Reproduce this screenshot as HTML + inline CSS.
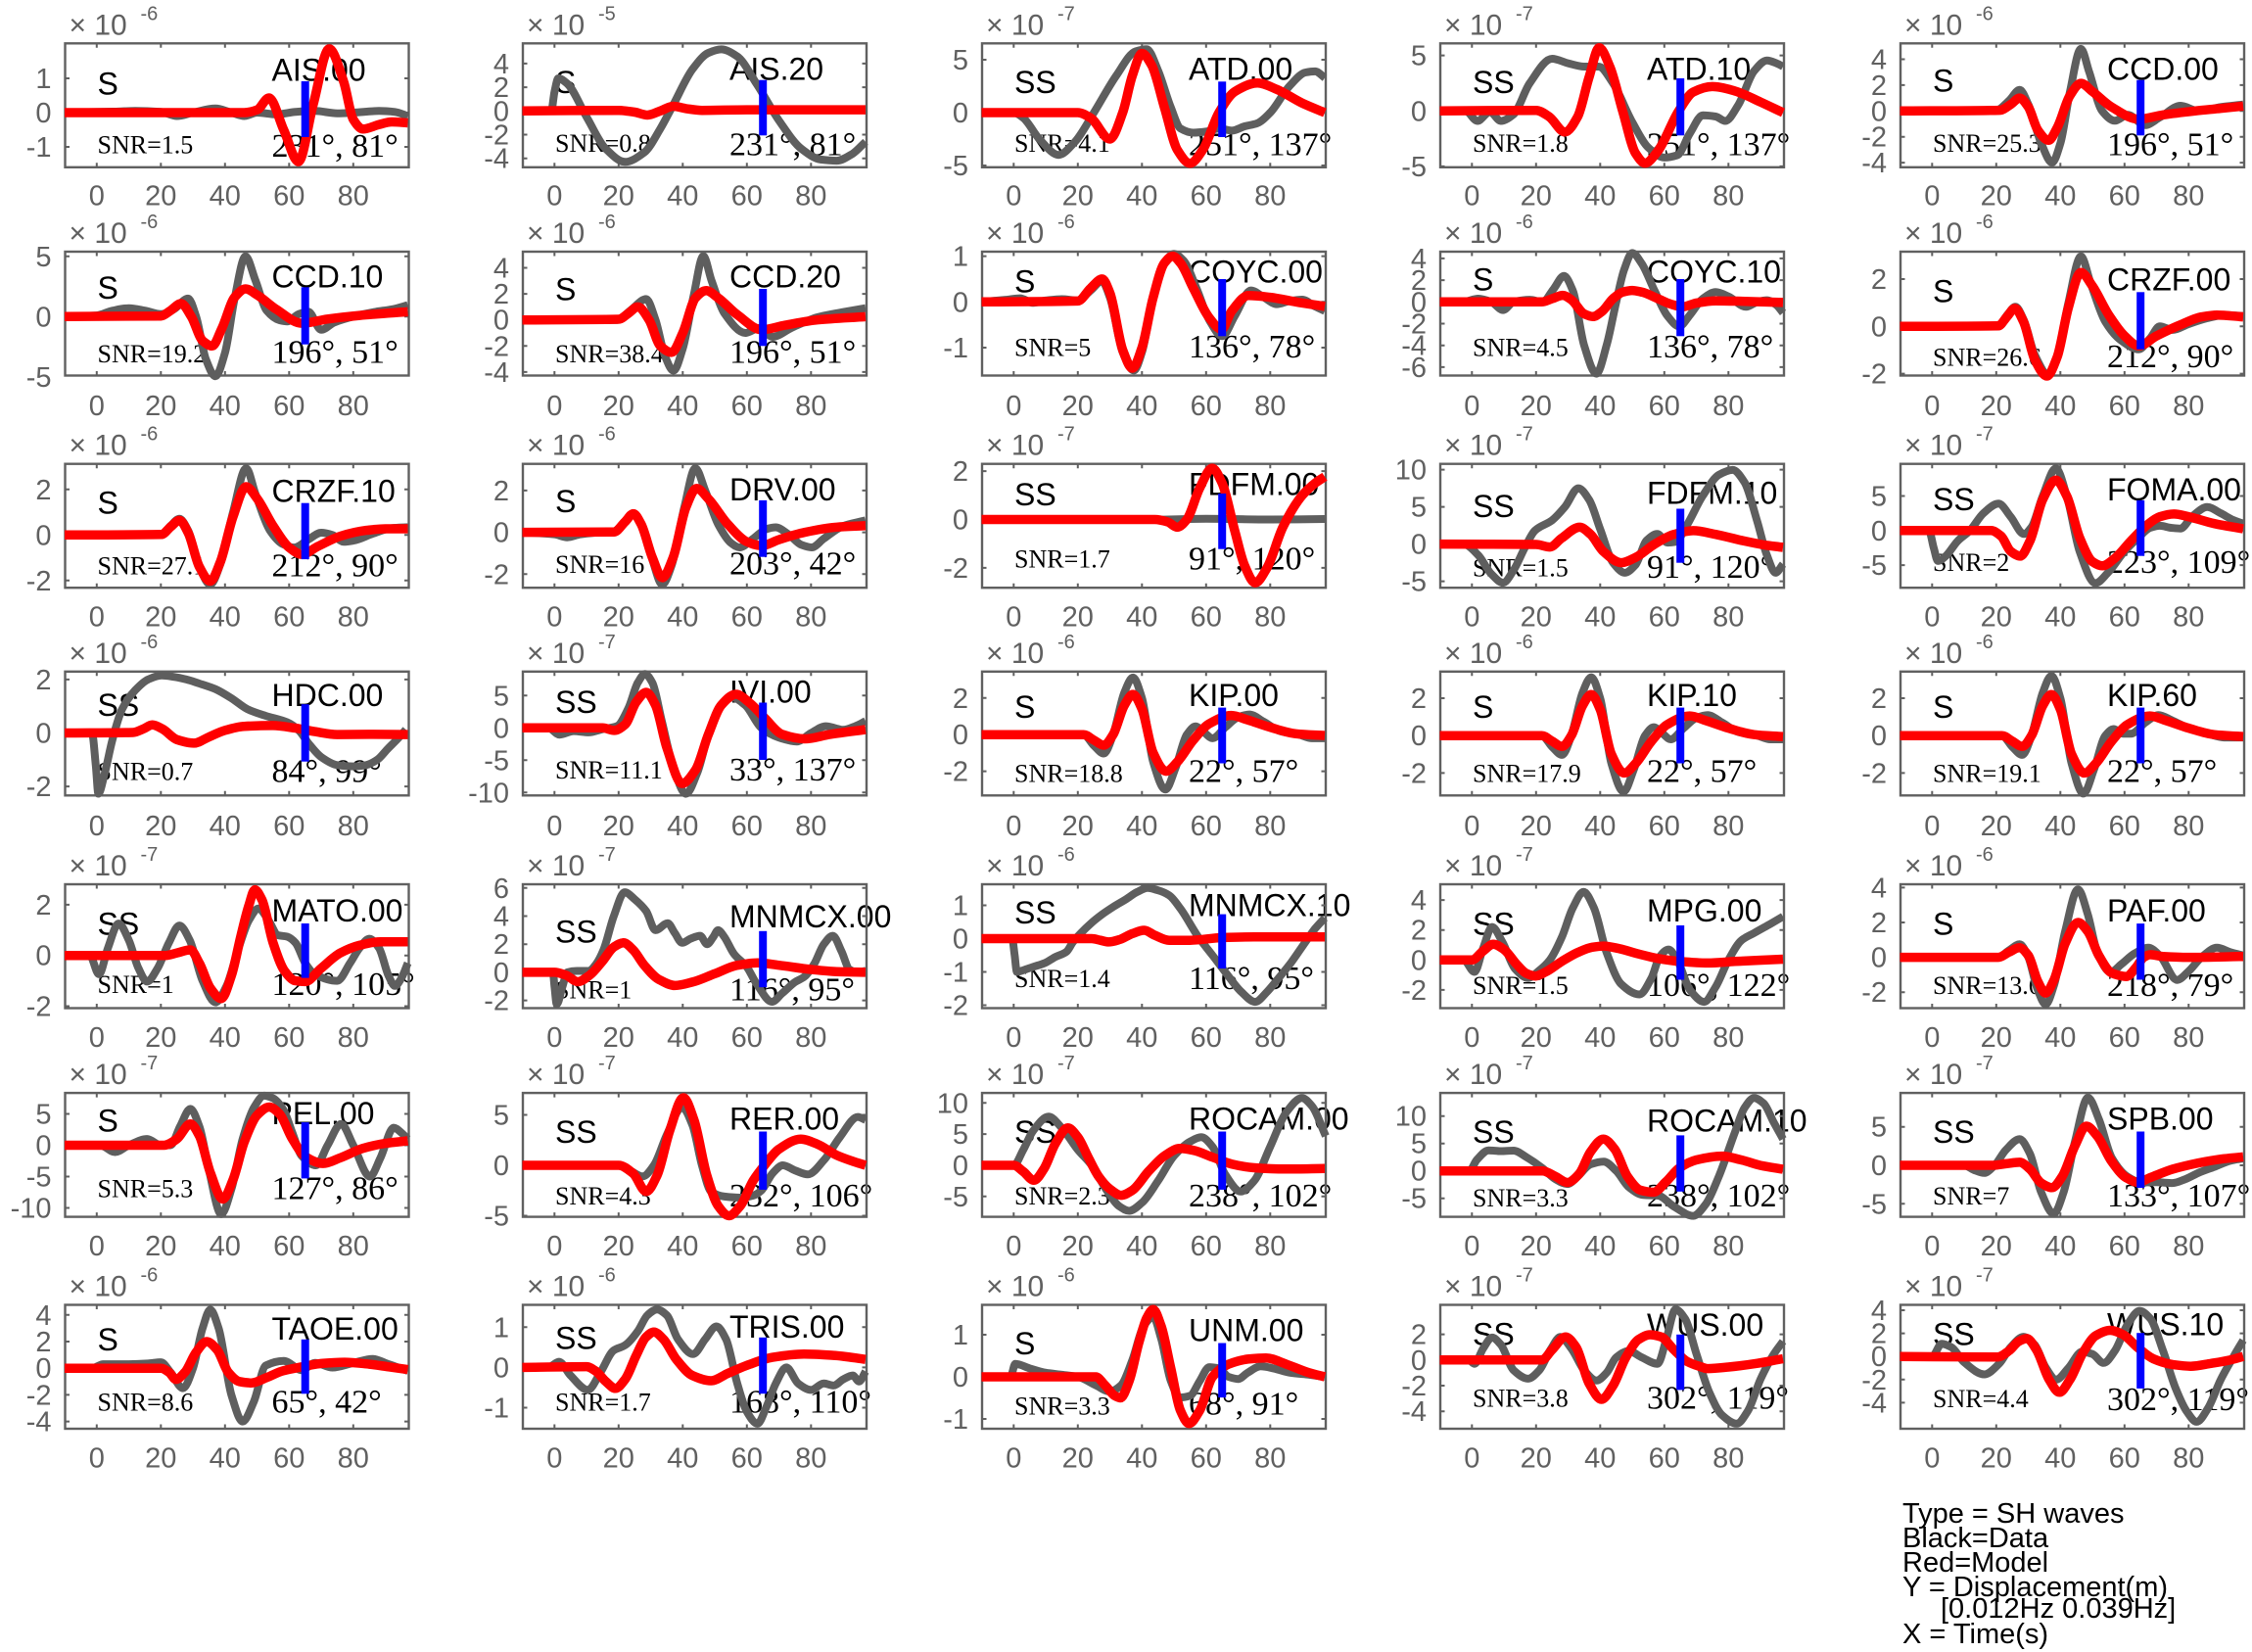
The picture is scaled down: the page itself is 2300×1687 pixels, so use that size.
<!DOCTYPE html>
<html><head><meta charset="utf-8">
<style>
body{margin:0;background:#fff}
svg{display:block}
text{font-family:"Liberation Sans",Arial,sans-serif}
.e{font-size:30px;fill:#606060}
.es{font-size:20px;fill:#606060}
.t{font-size:29px;fill:#606060;text-anchor:middle}
.yl{font-size:29px;fill:#606060;text-anchor:end}
.s,.n{font-size:32px;fill:#000}
.snr{font-family:"Liberation Serif",serif;font-size:26px;fill:#000}
.ang{font-family:"Liberation Serif",serif;font-size:34px;fill:#000}
.lg{font-size:29px;fill:#000}
.g{fill:none;stroke:#5e5e5e;stroke-width:8;stroke-linejoin:round}
.r{fill:none;stroke:#f00;stroke-width:9.5;stroke-linejoin:round}
.bx{fill:none;stroke:#606060;stroke-width:2.4}
.tk{fill:none;stroke:#606060;stroke-width:2}
</style></head>
<body>
<svg id="fig" xmlns="http://www.w3.org/2000/svg" width="2300" height="1687" viewBox="0 0 2300 1687">
<rect x="0" y="0" width="2300" height="1687" fill="#fff"/>

<!-- Row 0 -->
<g transform="translate(66.5,44.3)">
<text class="e" x="4" y="-9">× 10</text><text class="es" x="77" y="-24">-6</text>
<text class="t" y="165"><tspan x="32.3">0</tspan><tspan x="97.8">20</tspan><tspan x="163.3">40</tspan><tspan x="228.8">60</tspan><tspan x="294.3">80</tspan></text>
<text class="yl"><tspan x="-14" y="45.7">1</tspan><tspan x="-14" y="80.7">0</tspan><tspan x="-14" y="115.7">-1</tspan></text>
<text class="s" x="33" y="52.4">S</text><text class="n" x="211" y="38.4">AIS.00</text>
<text class="snr" x="33" y="112.4">SNR=1.5</text><text class="ang" x="211" y="115.7">231°, 81°</text>
</g>
<g transform="translate(534,44.3)">
<text class="e" x="4" y="-9">× 10</text><text class="es" x="77" y="-24">-5</text>
<text class="t" y="165"><tspan x="32.3">0</tspan><tspan x="97.8">20</tspan><tspan x="163.3">40</tspan><tspan x="228.8">60</tspan><tspan x="294.3">80</tspan></text>
<text class="yl"><tspan x="-14" y="30.6">4</tspan><tspan x="-14" y="54.8">2</tspan><tspan x="-14" y="79">0</tspan><tspan x="-14" y="103.2">-2</tspan><tspan x="-14" y="127.4">-4</tspan></text>
<text class="s" x="33" y="50.7">S</text><text class="n" x="211" y="37.4">AIS.20</text>
<text class="snr" x="33" y="110.7">SNR=0.8</text><text class="ang" x="211" y="114">231°, 81°</text>
</g>
<g transform="translate(1003,44.3)">
<text class="e" x="4" y="-9">× 10</text><text class="es" x="77" y="-24">-7</text>
<text class="t" y="165"><tspan x="32.3">0</tspan><tspan x="97.8">20</tspan><tspan x="163.3">40</tspan><tspan x="228.8">60</tspan><tspan x="294.3">80</tspan></text>
<text class="yl"><tspan x="-14" y="26.7">5</tspan><tspan x="-14" y="80.7">0</tspan><tspan x="-14" y="134.7">-5</tspan></text>
<text class="s" x="33" y="50.7">SS</text><text class="n" x="211" y="37.4">ATD.00</text>
<text class="snr" x="33" y="110.7">SNR=4.1</text><text class="ang" x="211" y="114">251°, 137°</text>
</g>
<g transform="translate(1471,44.3)">
<text class="e" x="4" y="-9">× 10</text><text class="es" x="77" y="-24">-7</text>
<text class="t" y="165"><tspan x="32.3">0</tspan><tspan x="97.8">20</tspan><tspan x="163.3">40</tspan><tspan x="228.8">60</tspan><tspan x="294.3">80</tspan></text>
<text class="yl"><tspan x="-14" y="22.4">5</tspan><tspan x="-14" y="79">0</tspan><tspan x="-14" y="135.7">-5</tspan></text>
<text class="s" x="33" y="50.7">SS</text><text class="n" x="211" y="37.4">ATD.10</text>
<text class="snr" x="33" y="110.7">SNR=1.8</text><text class="ang" x="211" y="114">251°, 137°</text>
</g>
<g transform="translate(1941,44.3)">
<text class="e" x="4" y="-9">× 10</text><text class="es" x="77" y="-24">-6</text>
<text class="t" y="165"><tspan x="32.3">0</tspan><tspan x="97.8">20</tspan><tspan x="163.3">40</tspan><tspan x="228.8">60</tspan><tspan x="294.3">80</tspan></text>
<text class="yl"><tspan x="-14" y="26.2">4</tspan><tspan x="-14" y="52.6">2</tspan><tspan x="-14" y="79">0</tspan><tspan x="-14" y="105.4">-2</tspan><tspan x="-14" y="131.8">-4</tspan></text>
<text class="s" x="33" y="49">S</text><text class="n" x="211" y="37.4">CCD.00</text>
<text class="snr" x="33" y="110.7">SNR=25.3</text><text class="ang" x="211" y="114">196°, 51°</text>
</g>

<!-- Row 1 -->
<g transform="translate(66.5,257)">
<text class="e" x="4" y="-9">× 10</text><text class="es" x="77" y="-24">-6</text>
<text class="t" y="167"><tspan x="32.3">0</tspan><tspan x="97.8">20</tspan><tspan x="163.3">40</tspan><tspan x="228.8">60</tspan><tspan x="294.3">80</tspan></text>
<text class="yl"><tspan x="-14" y="14.8">5</tspan><tspan x="-14" y="76.3">0</tspan><tspan x="-14" y="137.8">-5</tspan></text>
<text class="s" x="33" y="48">S</text><text class="n" x="211" y="36.3">CCD.10</text>
<text class="snr" x="33" y="113">SNR=19.2</text><text class="ang" x="211" y="113.7">196°, 51°</text>
</g>
<g transform="translate(534,257)">
<text class="e" x="4" y="-9">× 10</text><text class="es" x="77" y="-24">-6</text>
<text class="t" y="167"><tspan x="32.3">0</tspan><tspan x="97.8">20</tspan><tspan x="163.3">40</tspan><tspan x="228.8">60</tspan><tspan x="294.3">80</tspan></text>
<text class="yl"><tspan x="-14" y="26.5">4</tspan><tspan x="-14" y="53.1">2</tspan><tspan x="-14" y="79.7">0</tspan><tspan x="-14" y="106.3">-2</tspan><tspan x="-14" y="132.9">-4</tspan></text>
<text class="s" x="33" y="49.7">S</text><text class="n" x="211" y="36.3">CCD.20</text>
<text class="snr" x="33" y="113">SNR=38.4</text><text class="ang" x="211" y="113.7">196°, 51°</text>
</g>
<g transform="translate(1003,257)">
<text class="e" x="4" y="-9">× 10</text><text class="es" x="77" y="-24">-6</text>
<text class="t" y="167"><tspan x="32.3">0</tspan><tspan x="97.8">20</tspan><tspan x="163.3">40</tspan><tspan x="228.8">60</tspan><tspan x="294.3">80</tspan></text>
<text class="yl"><tspan x="-14" y="14.6">1</tspan><tspan x="-14" y="61.3">0</tspan><tspan x="-14" y="108">-1</tspan></text>
<text class="s" x="33" y="41.3">S</text><text class="n" x="211" y="31.3">COYC.00</text>
<text class="snr" x="33" y="106.3">SNR=5</text><text class="ang" x="211" y="108">136°, 78°</text>
</g>
<g transform="translate(1471,257)">
<text class="e" x="4" y="-9">× 10</text><text class="es" x="77" y="-24">-6</text>
<text class="t" y="167"><tspan x="32.3">0</tspan><tspan x="97.8">20</tspan><tspan x="163.3">40</tspan><tspan x="228.8">60</tspan><tspan x="294.3">80</tspan></text>
<text class="yl"><tspan x="-14" y="16.9">4</tspan><tspan x="-14" y="39.1">2</tspan><tspan x="-14" y="61.3">0</tspan><tspan x="-14" y="83.5">-2</tspan><tspan x="-14" y="105.7">-4</tspan><tspan x="-14" y="127.9">-6</tspan></text>
<text class="s" x="33" y="39.7">S</text><text class="n" x="211" y="31.3">COYC.10</text>
<text class="snr" x="33" y="106.3">SNR=4.5</text><text class="ang" x="211" y="108">136°, 78°</text>
</g>
<g transform="translate(1941,257)">
<text class="e" x="4" y="-9">× 10</text><text class="es" x="77" y="-24">-6</text>
<text class="t" y="167"><tspan x="32.3">0</tspan><tspan x="97.8">20</tspan><tspan x="163.3">40</tspan><tspan x="228.8">60</tspan><tspan x="294.3">80</tspan></text>
<text class="yl"><tspan x="-14" y="38">2</tspan><tspan x="-14" y="86.3">0</tspan><tspan x="-14" y="134.6">-2</tspan></text>
<text class="s" x="33" y="51.3">S</text><text class="n" x="211" y="39.7">CRZF.00</text>
<text class="snr" x="33" y="116.3">SNR=26.6</text><text class="ang" x="211" y="118">212°, 90°</text>
</g>

<!-- Row 2 -->
<g transform="translate(66.5,473.7)">
<text class="e" x="4" y="-9">× 10</text><text class="es" x="77" y="-24">-6</text>
<text class="t" y="166"><tspan x="32.3">0</tspan><tspan x="97.8">20</tspan><tspan x="163.3">40</tspan><tspan x="228.8">60</tspan><tspan x="294.3">80</tspan></text>
<text class="yl"><tspan x="-14" y="36.1">2</tspan><tspan x="-14" y="82.6">0</tspan><tspan x="-14" y="129.1">-2</tspan></text>
<text class="s" x="33" y="51">S</text><text class="n" x="211" y="39">CRZF.10</text>
<text class="snr" x="33" y="113">SNR=27.1</text><text class="ang" x="211" y="115">212°, 90°</text>
</g>
<g transform="translate(534,473.7)">
<text class="e" x="4" y="-9">× 10</text><text class="es" x="77" y="-24">-6</text>
<text class="t" y="166"><tspan x="32.3">0</tspan><tspan x="97.8">20</tspan><tspan x="163.3">40</tspan><tspan x="228.8">60</tspan><tspan x="294.3">80</tspan></text>
<text class="yl"><tspan x="-14" y="37.2">2</tspan><tspan x="-14" y="79.9">0</tspan><tspan x="-14" y="122.6">-2</tspan></text>
<text class="s" x="33" y="49.2">S</text><text class="n" x="211" y="37.2">DRV.00</text>
<text class="snr" x="33" y="111.2">SNR=16</text><text class="ang" x="211" y="113">203°, 42°</text>
</g>
<g transform="translate(1003,473.7)">
<text class="e" x="4" y="-9">× 10</text><text class="es" x="77" y="-24">-7</text>
<text class="t" y="166"><tspan x="32.3">0</tspan><tspan x="97.8">20</tspan><tspan x="163.3">40</tspan><tspan x="228.8">60</tspan><tspan x="294.3">80</tspan></text>
<text class="yl"><tspan x="-14" y="17.4">2</tspan><tspan x="-14" y="66.8">0</tspan><tspan x="-14" y="116.2">-2</tspan></text>
<text class="s" x="33" y="42.3">SS</text><text class="n" x="211" y="32">FDFM.00</text>
<text class="snr" x="33" y="106">SNR=1.7</text><text class="ang" x="211" y="107.7">91°, 120°</text>
</g>
<g transform="translate(1471,473.7)">
<text class="e" x="4" y="-9">× 10</text><text class="es" x="77" y="-24">-7</text>
<text class="t" y="166"><tspan x="32.3">0</tspan><tspan x="97.8">20</tspan><tspan x="163.3">40</tspan><tspan x="228.8">60</tspan><tspan x="294.3">80</tspan></text>
<text class="yl"><tspan x="-14" y="15.9">10</tspan><tspan x="-14" y="53.9">5</tspan><tspan x="-14" y="91.9">0</tspan><tspan x="-14" y="129.9">-5</tspan></text>
<text class="s" x="33" y="54.3">SS</text><text class="n" x="211" y="40.6">FDFM.10</text>
<text class="snr" x="33" y="114.6">SNR=1.5</text><text class="ang" x="211" y="116.4">91°, 120°</text>
</g>
<g transform="translate(1941,473.7)">
<text class="e" x="4" y="-9">× 10</text><text class="es" x="77" y="-24">-7</text>
<text class="t" y="166"><tspan x="32.3">0</tspan><tspan x="97.8">20</tspan><tspan x="163.3">40</tspan><tspan x="228.8">60</tspan><tspan x="294.3">80</tspan></text>
<text class="yl"><tspan x="-14" y="42.8">5</tspan><tspan x="-14" y="78.1">0</tspan><tspan x="-14" y="113.4">-5</tspan></text>
<text class="s" x="33" y="47.5">SS</text><text class="n" x="211" y="37.2">FOMA.00</text>
<text class="snr" x="33" y="109.5">SNR=2</text><text class="ang" x="211" y="111.2">223°, 109°</text>
</g>

<!-- Row 3 -->
<g transform="translate(66.5,685.8)">
<text class="e" x="4" y="-9">× 10</text><text class="es" x="77" y="-24">-6</text>
<text class="t" y="167"><tspan x="32.3">0</tspan><tspan x="97.8">20</tspan><tspan x="163.3">40</tspan><tspan x="228.8">60</tspan><tspan x="294.3">80</tspan></text>
<text class="yl"><tspan x="-14" y="18.1">2</tspan><tspan x="-14" y="72.7">0</tspan><tspan x="-14" y="127.3">-2</tspan></text>
<text class="s" x="33" y="45.4">SS</text><text class="n" x="211" y="35.1">HDC.00</text>
<text class="snr" x="33" y="110.9">SNR=0.7</text><text class="ang" x="211" y="112.6">84°, 99°</text>
</g>
<g transform="translate(534,685.8)">
<text class="e" x="4" y="-9">× 10</text><text class="es" x="77" y="-24">-7</text>
<text class="t" y="167"><tspan x="32.3">0</tspan><tspan x="97.8">20</tspan><tspan x="163.3">40</tspan><tspan x="228.8">60</tspan><tspan x="294.3">80</tspan></text>
<text class="yl"><tspan x="-14" y="34.5">5</tspan><tspan x="-14" y="67.5">0</tspan><tspan x="-14" y="100.5">-5</tspan><tspan x="-14" y="133.5">-10</tspan></text>
<text class="s" x="33" y="42">SS</text><text class="n" x="211" y="31.7">IVI.00</text>
<text class="snr" x="33" y="109.2">SNR=11.1</text><text class="ang" x="211" y="111">33°, 137°</text>
</g>
<g transform="translate(1003,685.8)">
<text class="e" x="4" y="-9">× 10</text><text class="es" x="77" y="-24">-6</text>
<text class="t" y="167"><tspan x="32.3">0</tspan><tspan x="97.8">20</tspan><tspan x="163.3">40</tspan><tspan x="228.8">60</tspan><tspan x="294.3">80</tspan></text>
<text class="yl"><tspan x="-14" y="37">2</tspan><tspan x="-14" y="74.4">0</tspan><tspan x="-14" y="111.8">-2</tspan></text>
<text class="s" x="33" y="47.2">S</text><text class="n" x="211" y="35.1">KIP.00</text>
<text class="snr" x="33" y="112.6">SNR=18.8</text><text class="ang" x="211" y="112.6">22°, 57°</text>
</g>
<g transform="translate(1471,685.8)">
<text class="e" x="4" y="-9">× 10</text><text class="es" x="77" y="-24">-6</text>
<text class="t" y="167"><tspan x="32.3">0</tspan><tspan x="97.8">20</tspan><tspan x="163.3">40</tspan><tspan x="228.8">60</tspan><tspan x="294.3">80</tspan></text>
<text class="yl"><tspan x="-14" y="37.2">2</tspan><tspan x="-14" y="75.4">0</tspan><tspan x="-14" y="113.6">-2</tspan></text>
<text class="s" x="33" y="47.2">S</text><text class="n" x="211" y="35.1">KIP.10</text>
<text class="snr" x="33" y="112.6">SNR=17.9</text><text class="ang" x="211" y="112.6">22°, 57°</text>
</g>
<g transform="translate(1941,685.8)">
<text class="e" x="4" y="-9">× 10</text><text class="es" x="77" y="-24">-6</text>
<text class="t" y="167"><tspan x="32.3">0</tspan><tspan x="97.8">20</tspan><tspan x="163.3">40</tspan><tspan x="228.8">60</tspan><tspan x="294.3">80</tspan></text>
<text class="yl"><tspan x="-14" y="37.2">2</tspan><tspan x="-14" y="75.4">0</tspan><tspan x="-14" y="113.6">-2</tspan></text>
<text class="s" x="33" y="47.2">S</text><text class="n" x="211" y="35.1">KIP.60</text>
<text class="snr" x="33" y="112.6">SNR=19.1</text><text class="ang" x="211" y="112.6">22°, 57°</text>
</g>

<!-- Row 4 -->
<g transform="translate(66.5,903)">
<text class="e" x="4" y="-9">× 10</text><text class="es" x="77" y="-24">-7</text>
<text class="t" y="166"><tspan x="32.3">0</tspan><tspan x="97.8">20</tspan><tspan x="163.3">40</tspan><tspan x="228.8">60</tspan><tspan x="294.3">80</tspan></text>
<text class="yl"><tspan x="-14" y="30.9">2</tspan><tspan x="-14" y="82.7">0</tspan><tspan x="-14" y="134.5">-2</tspan></text>
<text class="s" x="33" y="51.6">SS</text><text class="n" x="211" y="38.2">MATO.00</text>
<text class="snr" x="33" y="111">SNR=1</text><text class="ang" x="211" y="113">120°, 105°</text>
</g>
<g transform="translate(534,903)">
<text class="e" x="4" y="-9">× 10</text><text class="es" x="77" y="-24">-7</text>
<text class="t" y="166"><tspan x="32.3">0</tspan><tspan x="97.8">20</tspan><tspan x="163.3">40</tspan><tspan x="228.8">60</tspan><tspan x="294.3">80</tspan></text>
<text class="yl"><tspan x="-14" y="13.8">6</tspan><tspan x="-14" y="42.5">4</tspan><tspan x="-14" y="71.2">2</tspan><tspan x="-14" y="99.9">0</tspan><tspan x="-14" y="128.6">-2</tspan></text>
<text class="s" x="33" y="59.3">SS</text><text class="n" x="211" y="44">MNMCX.00</text>
<text class="snr" x="33" y="116.7">SNR=1</text><text class="ang" x="211" y="118.6">116°, 95°</text>
</g>
<g transform="translate(1003,903)">
<text class="e" x="4" y="-9">× 10</text><text class="es" x="77" y="-24">-6</text>
<text class="t" y="166"><tspan x="32.3">0</tspan><tspan x="97.8">20</tspan><tspan x="163.3">40</tspan><tspan x="228.8">60</tspan><tspan x="294.3">80</tspan></text>
<text class="yl"><tspan x="-14" y="31.5">1</tspan><tspan x="-14" y="65.5">0</tspan><tspan x="-14" y="99.5">-1</tspan><tspan x="-14" y="133.5">-2</tspan></text>
<text class="s" x="33" y="40">SS</text><text class="n" x="211" y="32.5">MNMCX.10</text>
<text class="snr" x="33" y="105">SNR=1.4</text><text class="ang" x="211" y="107">116°, 95°</text>
</g>
<g transform="translate(1471,903)">
<text class="e" x="4" y="-9">× 10</text><text class="es" x="77" y="-24">-7</text>
<text class="t" y="166"><tspan x="32.3">0</tspan><tspan x="97.8">20</tspan><tspan x="163.3">40</tspan><tspan x="228.8">60</tspan><tspan x="294.3">80</tspan></text>
<text class="yl"><tspan x="-14" y="26.1">4</tspan><tspan x="-14" y="56.7">2</tspan><tspan x="-14" y="87.3">0</tspan><tspan x="-14" y="117.9">-2</tspan></text>
<text class="s" x="33" y="51.6">SS</text><text class="n" x="211" y="38.2">MPG.00</text>
<text class="snr" x="33" y="112">SNR=1.5</text><text class="ang" x="211" y="114">106°, 122°</text>
</g>
<g transform="translate(1941,903)">
<text class="e" x="4" y="-9">× 10</text><text class="es" x="77" y="-24">-6</text>
<text class="t" y="166"><tspan x="32.3">0</tspan><tspan x="97.8">20</tspan><tspan x="163.3">40</tspan><tspan x="228.8">60</tspan><tspan x="294.3">80</tspan></text>
<text class="yl"><tspan x="-14" y="13.4">4</tspan><tspan x="-14" y="49">2</tspan><tspan x="-14" y="84.6">0</tspan><tspan x="-14" y="120.2">-2</tspan></text>
<text class="s" x="33" y="51.6">S</text><text class="n" x="211" y="38.2">PAF.00</text>
<text class="snr" x="33" y="112">SNR=13.6</text><text class="ang" x="211" y="114">218°, 79°</text>
</g>

<!-- Row 5 -->
<g transform="translate(66.5,1116.1)">
<text class="e" x="4" y="-9">× 10</text><text class="es" x="77" y="-24">-7</text>
<text class="t" y="166"><tspan x="32.3">0</tspan><tspan x="97.8">20</tspan><tspan x="163.3">40</tspan><tspan x="228.8">60</tspan><tspan x="294.3">80</tspan></text>
<text class="yl"><tspan x="-14" y="31.4">5</tspan><tspan x="-14" y="63.4">0</tspan><tspan x="-14" y="95.4">-5</tspan><tspan x="-14" y="127.4">-10</tspan></text>
<text class="s" x="33" y="39.4">S</text><text class="n" x="211" y="31.8">PEL.00</text>
<text class="snr" x="33" y="106.4">SNR=5.3</text><text class="ang" x="211" y="108.3">127°, 86°</text>
</g>
<g transform="translate(534,1116.1)">
<text class="e" x="4" y="-9">× 10</text><text class="es" x="77" y="-24">-7</text>
<text class="t" y="166"><tspan x="32.3">0</tspan><tspan x="97.8">20</tspan><tspan x="163.3">40</tspan><tspan x="228.8">60</tspan><tspan x="294.3">80</tspan></text>
<text class="yl"><tspan x="-14" y="32.4">5</tspan><tspan x="-14" y="83.9">0</tspan><tspan x="-14" y="135.4">-5</tspan></text>
<text class="s" x="33" y="50.9">SS</text><text class="n" x="211" y="37.5">RER.00</text>
<text class="snr" x="33" y="114">SNR=4.3</text><text class="ang" x="211" y="116">232°, 106°</text>
</g>
<g transform="translate(1003,1116.1)">
<text class="e" x="4" y="-9">× 10</text><text class="es" x="77" y="-24">-7</text>
<text class="t" y="166"><tspan x="32.3">0</tspan><tspan x="97.8">20</tspan><tspan x="163.3">40</tspan><tspan x="228.8">60</tspan><tspan x="294.3">80</tspan></text>
<text class="yl"><tspan x="-14" y="20.2">10</tspan><tspan x="-14" y="52">5</tspan><tspan x="-14" y="83.9">0</tspan><tspan x="-14" y="115.8">-5</tspan></text>
<text class="s" x="33" y="50.9">SS</text><text class="n" x="211" y="37.5">ROCAM.00</text>
<text class="snr" x="33" y="114">SNR=2.3</text><text class="ang" x="211" y="116">238°, 102°</text>
</g>
<g transform="translate(1471,1116.1)">
<text class="e" x="4" y="-9">× 10</text><text class="es" x="77" y="-24">-7</text>
<text class="t" y="166"><tspan x="32.3">0</tspan><tspan x="97.8">20</tspan><tspan x="163.3">40</tspan><tspan x="228.8">60</tspan><tspan x="294.3">80</tspan></text>
<text class="yl"><tspan x="-14" y="33.6">10</tspan><tspan x="-14" y="61.6">5</tspan><tspan x="-14" y="89.6">0</tspan><tspan x="-14" y="117.6">-5</tspan></text>
<text class="s" x="33" y="50.9">SS</text><text class="n" x="211" y="39.4">ROCAM.10</text>
<text class="snr" x="33" y="116">SNR=3.3</text><text class="ang" x="211" y="116">238°, 102°</text>
</g>
<g transform="translate(1941,1116.1)">
<text class="e" x="4" y="-9">× 10</text><text class="es" x="77" y="-24">-7</text>
<text class="t" y="166"><tspan x="32.3">0</tspan><tspan x="97.8">20</tspan><tspan x="163.3">40</tspan><tspan x="228.8">60</tspan><tspan x="294.3">80</tspan></text>
<text class="yl"><tspan x="-14" y="44.6">5</tspan><tspan x="-14" y="83.9">0</tspan><tspan x="-14" y="123.2">-5</tspan></text>
<text class="s" x="33" y="50.9">SS</text><text class="n" x="211" y="37.5">SPB.00</text>
<text class="snr" x="33" y="114">SNR=7</text><text class="ang" x="211" y="116">133°, 107°</text>
</g>

<!-- Row 6 -->
<g transform="translate(66.5,1332.5)">
<text class="e" x="4" y="-9">× 10</text><text class="es" x="77" y="-24">-6</text>
<text class="t" y="166"><tspan x="32.3">0</tspan><tspan x="97.8">20</tspan><tspan x="163.3">40</tspan><tspan x="228.8">60</tspan><tspan x="294.3">80</tspan></text>
<text class="yl"><tspan x="-14" y="20.3">4</tspan><tspan x="-14" y="47.5">2</tspan><tspan x="-14" y="74.7">0</tspan><tspan x="-14" y="101.9">-2</tspan><tspan x="-14" y="129.1">-4</tspan></text>
<text class="s" x="33" y="46.7">S</text><text class="n" x="211" y="35.3">TAOE.00</text>
<text class="snr" x="33" y="108">SNR=8.6</text><text class="ang" x="211" y="110">65°, 42°</text>
</g>
<g transform="translate(534,1332.5)">
<text class="e" x="4" y="-9">× 10</text><text class="es" x="77" y="-24">-6</text>
<text class="t" y="166"><tspan x="32.3">0</tspan><tspan x="97.8">20</tspan><tspan x="163.3">40</tspan><tspan x="228.8">60</tspan><tspan x="294.3">80</tspan></text>
<text class="yl"><tspan x="-14" y="32.8">1</tspan><tspan x="-14" y="73.9">0</tspan><tspan x="-14" y="115">-1</tspan></text>
<text class="s" x="33" y="44.8">SS</text><text class="n" x="211" y="33.3">TRIS.00</text>
<text class="snr" x="33" y="108">SNR=1.7</text><text class="ang" x="211" y="110">168°, 110°</text>
</g>
<g transform="translate(1003,1332.5)">
<text class="e" x="4" y="-9">× 10</text><text class="es" x="77" y="-24">-6</text>
<text class="t" y="166"><tspan x="32.3">0</tspan><tspan x="97.8">20</tspan><tspan x="163.3">40</tspan><tspan x="228.8">60</tspan><tspan x="294.3">80</tspan></text>
<text class="yl"><tspan x="-14" y="40.5">1</tspan><tspan x="-14" y="83.5">0</tspan><tspan x="-14" y="126.5">-1</tspan></text>
<text class="s" x="33" y="50.6">S</text><text class="n" x="211" y="37.2">UNM.00</text>
<text class="snr" x="33" y="111.8">SNR=3.3</text><text class="ang" x="211" y="111.8">68°, 91°</text>
</g>
<g transform="translate(1471,1332.5)">
<text class="e" x="4" y="-9">× 10</text><text class="es" x="77" y="-24">-7</text>
<text class="t" y="166"><tspan x="32.3">0</tspan><tspan x="97.8">20</tspan><tspan x="163.3">40</tspan><tspan x="228.8">60</tspan><tspan x="294.3">80</tspan></text>
<text class="yl"><tspan x="-14" y="40.1">2</tspan><tspan x="-14" y="66.3">0</tspan><tspan x="-14" y="92.5">-2</tspan><tspan x="-14" y="118.7">-4</tspan></text>
<text class="s" x="33" y="41">SS</text><text class="n" x="211" y="31.4">WUS.00</text>
<text class="snr" x="33" y="104">SNR=3.8</text><text class="ang" x="211" y="106">302°, 119°</text>
</g>
<g transform="translate(1941,1332.5)">
<text class="e" x="4" y="-9">× 10</text><text class="es" x="77" y="-24">-7</text>
<text class="t" y="166"><tspan x="32.3">0</tspan><tspan x="97.8">20</tspan><tspan x="163.3">40</tspan><tspan x="228.8">60</tspan><tspan x="294.3">80</tspan></text>
<text class="yl"><tspan x="-14" y="15.5">4</tspan><tspan x="-14" y="39.1">2</tspan><tspan x="-14" y="62.7">0</tspan><tspan x="-14" y="86.3">-2</tspan><tspan x="-14" y="109.9">-4</tspan></text>
<text class="s" x="33" y="41">SS</text><text class="n" x="211" y="31">WUS.10</text>
<text class="snr" x="33" y="104.4">SNR=4.4</text><text class="ang" x="211" y="107.7">302°, 119°</text>
</g>

<!-- Legend -->
<text class="lg" x="1943" y="1555">Type = SH waves</text>
<text class="lg" x="1943" y="1580">Black=Data</text>
<text class="lg" x="1943" y="1605">Red=Model</text>
<text class="lg" x="1943" y="1630">Y = Displacement(m)</text>
<text class="lg" x="1982" y="1652">[0.012Hz 0.039Hz]</text>
<text class="lg" x="1943" y="1678">X = Time(s)</text>

<g id="data"></g>
</svg>
<script>
(function(){
var cols=[66.5,534,1003,1471,1941], rows=[44.3,257,473.7,685.8,903,1116.1,1332.5];
function pth(xs,ys){
  var n=xs.length,h=[],d=[],m=new Array(n),i;
  for(i=0;i<n-1;i++){h[i]=xs[i+1]-xs[i];d[i]=(ys[i+1]-ys[i])/h[i];}
  m[0]=d[0];m[n-1]=d[n-2];
  for(i=1;i<n-1;i++){
    if(d[i-1]*d[i]<=0)m[i]=0;
    else{var w1=2*h[i]+h[i-1],w2=h[i]+2*h[i-1];m[i]=(w1+w2)/(w1/d[i-1]+w2/d[i]);}
  }
  var s='M'+xs[0].toFixed(1)+' '+ys[0].toFixed(1);
  for(i=0;i<n-1;i++){
    var dx=h[i]/3;
    s+='C'+(xs[i]+dx).toFixed(1)+' '+(ys[i]+m[i]*dx).toFixed(1)+' '+(xs[i+1]-dx).toFixed(1)+' '+(ys[i+1]-m[i+1]*dx).toFixed(1)+' '+xs[i+1].toFixed(1)+' '+ys[i+1].toFixed(1);
  }
  return s;
}
function mk(a,L,T,y0,k){var xs=[],ys=[];for(var i=0;i<a.length;i+=2){xs.push(L+32.3+3.275*a[i]);ys.push(T+y0-k*a[i+1]);}return pth(xs,ys);}
var KG=[-10,0,15,0.02,21.8,0,25,-0.6,28.1,-1.03,31,0,34.5,2.3,37.2,3.12,40,2.0,43.5,-1.5,47.3,-3.0,50.5,-1.8,54,0,56.7,0.45,59.5,0.1,62,-0.2,66,0.4,70,0.95,73.5,1.1,78,0.7,83,0.2,89,0,93,-0.2,97,-0.2];
var KR=[-10,0,21.8,0,25,-0.3,28.1,-0.58,31,0,34.5,1.6,37.2,2.2,40,1.4,43.5,-1.0,47.5,-2.0,51,-1.5,56,-0.3,61,0.6,67.9,1.05,73,0.8,80,0.4,88,0.05,97,-0.05];
var K6=[-10,0,15,0.02,21.8,0,25,-0.6,28.1,-1.03,31,0,34.5,2.3,37.2,3.2,40,2.0,43.5,-1.5,47.2,-3.1,50.5,-1.8,54,0,56.6,0.35,59.5,0.1,62,0.1,66.5,0.7,70.6,1.1,75,0.8,80,0.4,86,0.1,91,-0.1,97,-0.1];
var D=[
[0,0,70.7,35,[1,0,-1],38.7,95.7,
 [-10,0,5,0.03,12,0.05,20,0.02,25,-0.1,30,0,37,0.12,42,0,46,-0.1,50,0,56,-0.05,62,0.02,68,0.05,75,-0.02,80,0,88,0.05,93,0.02,97,-0.1],
 [-10,0,46,0,50,0.08,53.7,0.43,58.3,-0.5,62.9,-1.43,67.5,0.24,72.5,1.86,77,0.9,80,-0.2,83,-0.48,88,-0.35,92,-0.27,97,-0.3]],
[1,0,69,12.1,[4,2,0,-2,-4],37.4,94,
 [-10,0,-1,0,0,1.6,1.2,2.75,4,2.3,10,-0.5,16,-3.2,22,-4.3,28,-3.5,33,-1.5,37,0.5,43,3.5,48,4.9,52,5.2,57,4.6,63,2.3,70,-0.8,77,-3.2,83,-4.1,88,-4.2,93,-3.6,97,-2.6],
 [-10,0,20,0.05,25,-0.1,29,-0.35,33,0,37,0.4,41,0.2,46,0.05,60,0.1,97,0.1]],
[2,0,70.7,10.8,[5,0,-5],39,95.7,
 [-10,0,0,0,3,-0.5,8,-2.5,14,-4.0,19,-2.8,25,0,32,3.5,38,5.8,41.5,6.0,45,4.0,49,0.5,52,-1.5,56,-1.9,60,-1.8,64,-1.5,68,-1.7,72,-1.3,76,-1.0,80,0,86,2.5,91,3.8,94,3.9,97,3.3],
 [-10,0,20,0,24,-0.5,30,-2.5,34,0,37,3.5,40,5.6,43,4.5,47,0.5,51,-3.5,55,-4.8,59,-3.5,64,0,69,2.0,76,2.8,82,2.2,90,0.9,97,0]],
[3,0,69,11.33,[5,0,-5],35.7,94,
 [-10,0,-2,0,1.7,-0.9,5.6,-0.1,9,-0.9,13,-0.3,18,2.5,25,4.7,30,4.3,35,4.0,39.5,4.0,44,2.5,50,-1,55,-3.3,60,-4.2,64,-4.0,68,-2,72,-0.4,76,-0.5,79,-0.9,83,0.5,88,3.6,92,4.55,95,4.3,97,4.0],
 [-10,0,20,0.05,24,-0.5,29,-1.9,33,-0.5,36.5,3.0,39.7,5.7,43,4.0,47,0,51,-3.8,54,-4.7,58,-3.6,64.5,0,69,1.7,75,2.2,82,1.8,90,0.8,97,-0.15]],
[4,0,69,13.2,[4,2,0,-2,-4],37.4,94,
 [-10,0,20,0.05,24,0.8,27.3,1.64,30,0.5,34,-2.5,37.4,-4.0,40,-2.5,43,1.5,46.4,4.8,49,3.0,53,0,57,-0.76,61,-0.3,66.4,-1.1,71,-0.5,77.5,0.4,83,0,90,0.3,97,0.5],
 [-10,0,21,0.05,24.5,0.5,27.3,1.0,30,0.3,33,-1.5,36.3,-2.27,39,-1.3,43,1.2,46.4,2.14,50,1.5,56,0.3,64.4,-0.64,72,-0.3,82,0,90,0.2,97,0.38]],
[0,1,66.3,12.3,[5,0,-5],36.3,94.7,
 [-10,0,0,0.1,5,0.5,10,0.7,15,0.5,20,0.2,24,0.6,28.5,1.5,31,0,34,-3.5,37,-4.95,40,-3,43,1.5,46.4,5.0,49.5,3.0,53,0.5,57,-0.3,59.4,-0.4,63,0.2,66,0.4,70,-1.1,74,-0.5,80,0,87,0.4,92,0.6,97,0.95],
 [-10,0,20,0.05,23,0.5,26.3,1.08,29.5,0,33,-2.0,36,-2.44,39,-1.0,43,1.6,46.4,2.3,50,1.8,56,0.6,64,-0.55,72,-0.2,82,0.1,97,0.4]],
[1,1,69.7,13.3,[4,2,0,-2,-4],38,96.3,
 [-10,0,19.6,0,24,0.8,28.6,1.6,31.5,0,34.5,-2.8,37.1,-3.9,40,-2.2,43.5,2.0,46.4,4.9,49,3.0,53,0.5,59.5,-1.0,64,-0.6,68,-1.3,74,-0.6,82,0.2,90,0.6,97,0.9],
 [-10,0,20,0.05,23,0.5,26,1.0,29.5,0,33,-2.0,36.5,-2.5,40,-1.0,44,1.7,47.3,2.25,51,1.7,57,0.4,64.6,-0.75,72,-0.4,82,0,97,0.25]],
[2,1,51.3,46.7,[1,0,-1],28,86.3,
 [-10,0,-2,0.05,2,0.08,6,-0.02,10,0.03,15,0.06,20,0.03,24,0.25,27.5,0.45,30,0.1,34,-1.1,37.5,-1.5,40,-1.1,43.5,0.1,47,0.85,50,1.05,53,0.9,57,0.3,61,-0.4,65,-0.75,69,-0.3,74,0.25,78,0.1,82,-0.05,86,0.02,90,0.05,94,-0.1,97,-0.2],
 [-10,0,20,0.02,24,0.3,27.6,0.5,30,0.2,34,-1.05,37,-1.45,40,-1.0,43.5,0.1,47,0.85,49.6,1.0,52,0.85,56,0.3,61,-0.35,64.8,-0.6,68,-0.2,73.2,0.14,80,0.1,88,0,97,-0.1]],
[3,1,51.3,11.1,[4,2,0,-2,-4,-6],28,86.3,
 [-10,0,-3,0,2,0.3,6,0,9.7,-0.75,13,0,18,0.2,22,0,25.5,1.2,28.7,2.4,31.5,1.0,35,-4.0,38.8,-6.6,42,-4.0,45,0,47.5,3.0,50,4.5,53,3.5,57,1.0,61,-1.3,64.6,-2.25,68,-1.2,72,0.3,76,0.9,80,0.5,85.5,-0.45,89,0,92,0.15,95,-0.3,97,-1.0],
 [-10,0,21.7,0,25,0.3,28.3,0.6,31,0.2,35,-1.1,37.7,-1.35,40.5,-0.9,44,0.3,47,0.9,50,1.05,53,0.9,58,0.3,62,-0.2,65.7,-0.45,70,-0.1,76,0.1,85,0.05,97,-0.05]],
[4,1,76.3,24.15,[2,0,-2],41.3,99.7,
 [-10,0,20.6,0,23.5,0.5,26,0.83,28.5,0.3,32,-1.2,36.3,-2.06,39,-1.3,42.5,1.0,46.4,2.96,49.5,1.8,54,0.2,59,-0.6,64.4,-0.97,68,-0.5,71,0,75,-0.15,80,0.1,86,0.35,91,0.48,97,0.44],
 [-10,0,20.6,0.02,23.3,0.4,25.8,0.76,28.5,0.2,32,-1.4,35.8,-2.1,39,-1.3,42.5,0.8,46.4,2.28,50,1.7,55,0.5,60,-0.4,64.4,-0.83,70,-0.4,78,0.1,84,0.4,88.8,0.48,97,0.4]],
[0,2,72.6,23.25,[2,0,-2],40,97.4,
 [-10,0,20.2,0,23,0.4,25.8,0.71,28.5,0.2,32,-1.4,35.4,-2.18,38.5,-1.3,42.5,1.0,46.6,2.93,49.5,1.8,54,0.2,58,-0.4,61.6,-0.55,66,-0.2,70,0.1,73.5,0,77,-0.3,80,-0.25,86,0.05,92,0.3,97,0.34],
 [-10,0,20.2,0.02,23,0.35,25.8,0.64,28.5,0.1,32,-1.4,35.4,-2.03,38.5,-1.2,42.5,0.8,46.6,2.12,50,1.6,55,0.4,60,-0.55,63.9,-0.85,69,-0.5,76,-0.05,84,0.2,90,0.27,97,0.27]],
[1,2,69.9,21.35,[2,0,-2],37.2,95,
 [-10,0,0,-0.1,4,-0.24,8,-0.1,14,0,18.6,0.05,22,0.5,24.6,0.89,27,0.4,30.5,-1.3,33.6,-2.5,36.5,-1.6,40.5,1.2,43.9,3.07,47,2.0,51,0.4,55,-0.5,57.7,-0.72,62,-0.3,66,0.15,69,0.24,73,-0.1,77,-0.6,80.2,-0.72,84,-0.3,90,0.3,97,0.57],
 [-10,0,18.6,0.02,22,0.5,24.6,0.89,27,0.4,30.5,-1.2,33.6,-2.17,37,-1.2,41,1.2,44.3,2.1,48,1.6,54,0.4,60,-0.45,64.5,-0.64,70,-0.35,78,0,88,0.25,97,0.32]],
[2,2,56.8,24.7,[2,0,-2],30.3,87,
 [-10,0,20,0.02,40,-0.02,60,0.03,80,0,97,0.02],
 [-10,0,44,0,48,-0.1,51,-0.32,54,0,58,1.3,61.9,2.12,65,1.5,69,-0.5,72,-1.9,75.3,-2.62,79,-2.0,84,-0.3,90,1.0,94,1.5,97,1.77]],
[3,2,81.9,7.6,[10,5,0,-5],45.8,101,
 [-10,0,-2.6,0,2,-1.5,6,-4,9.7,-5.2,13,-3.5,16.5,-0.5,19.6,1.8,25,3.2,29,5.0,33.2,7.5,36.5,6.0,40,2.0,44,-2.5,47.7,-3.85,51,-2.8,54.5,0.5,57.8,1.35,61,0.2,63.5,0.3,67,2.5,72,6.5,77,9.3,81.3,9.96,85,8.3,89,3.0,92,-1.5,94.7,-3.85,97,-2.7],
 [-10,0,20,-0.05,24.3,-0.4,28,0.8,33.6,2.26,37,1.3,41,-1.0,46.6,-2.5,51,-1.8,57,0,63,1.3,69,1.8,76,1.3,84,0.5,91,-0.1,97,-0.45]],
[4,2,68.1,7.06,[5,0,-5],37.2,94,
 [-10,0,-1,0,0.5,-2.5,1.8,-4.4,4,-3.8,8,-1.5,11.8,0,16,2.5,20.7,3.9,24.5,2.0,28.6,-0.5,31,0.5,34.5,5.0,38.6,9.0,42,5.0,46,-3.0,50.9,-7.6,55,-6.0,60,-3.0,64.4,-1.0,68,0.4,71,0.7,74.5,0.4,77.5,0.3,81,2.0,85.8,3.4,90,2.5,94,1.5,97,1.0],
 [-10,0,18.4,0,21.5,-0.8,24.5,-3.0,27.5,-3.7,30.5,-1.5,34.5,4.5,38.6,7.3,42,5.0,46,-1.0,50,-4.5,53.1,-5.1,57,-4.0,62,-1.5,67,0.8,71,2.0,75.4,2.4,80,2.0,88,1.0,97,0.25]],
[0,3,62.7,27.3,[2,0,-2],33.4,91.9,
 [-10,0,-1.5,0,-0.3,-1.2,0.5,-2.27,2.5,-1.5,5,-0.2,7.9,0.89,12,1.6,16,2.0,20.2,2.15,24,2.1,28,2.0,32,1.85,37,1.64,42,1.3,47,0.89,52.7,0.64,59.4,0.4,63,0.1,66,-0.38,70,-0.9,75,-1.2,80,-1.25,84,-1.2,87.5,-1.0,90.7,-0.6,94,-0.2,96.4,0.13],
 [-10,0,11.3,0.02,14.5,0.15,17.3,0.3,20.5,0.15,25,-0.25,30.3,-0.38,35,-0.15,40,0.1,46,0.25,54.9,0.28,62,0.18,68,0.05,75,-0.06,85,-0.05,97,-0.06]],
[1,3,57.5,6.6,[5,0,-5,-10],31.7,90.2,
 [-10,0,-2,0,1.6,-1.05,6,-0.5,10.7,-0.7,15,-0.2,19.6,0.3,23,3.0,26,7.0,28.2,8.35,30.5,7.0,33.5,1.0,37,-6.0,41,-10.2,44.5,-7.0,48,-1.0,52,3.5,55.5,4.7,59.5,3.5,64.5,0,70,-1.5,75.6,-2.1,80,-0.8,84.6,0.25,88,-0.1,90,-0.3,94,0.3,97,1.05],
 [-10,0,15,0,18.6,-0.4,22,0.5,25.5,4.0,28.6,5.5,31.5,3.5,35,-3.0,39.8,-8.6,44,-6.5,48,-1.0,52,3.5,56.6,5.2,61,3.8,65.6,1.5,71,-1.0,78,-1.7,86,-1.0,97,-0.26]],
[2,3,64.4,18.7,[2,0,-2],36.8,93.7,KG,KR],
[3,3,65.4,19.1,[2,0,-2],36.8,93.7,KG,KR],
[4,3,65.4,19.1,[2,0,-2],36.8,93.7,K6,KR],
[0,4,72.7,25.9,[2,0,-2],40,95.6,
 [-10,0,-2.2,0,0.7,-0.74,3.5,0.3,6.8,1.26,10,0.6,13,-0.5,15.7,-1.03,19,-0.5,22.5,0.5,25.8,1.18,29,0.6,33,-1.0,37,-1.85,40.5,-1.2,44,0.2,47.5,1.4,50.4,1.85,53.5,1.4,56.5,0.8,59.4,0.74,62,0.5,65,-0.3,68,-0.74,75,-1.0,79,-0.3,82,0.3,85,0.66,88,0.3,91,-0.8,93,-1.2,95,-0.9,97,-0.3],
 [-10,0,21.4,0,25,0.1,29.2,0.22,32,-0.3,35.5,-1.3,38.8,-1.7,42,-0.8,45,0.8,47.5,2.0,49.3,2.59,51.5,2.2,55,0.5,58.5,-0.6,62,-1.0,65,-1.03,70,-0.5,76,0.1,82,0.4,88.5,0.54,97,0.54]],
[1,4,89.9,14.35,[6,4,2,0,-2],47.8,105.2,
 [-10,0,-0.5,0,0,-1.0,0.7,-2.27,2.5,-1.0,4,0,7,0.1,10.7,0.1,13,0.6,15.3,1.6,18.5,4.0,21.9,5.7,25,5.2,28.6,4.35,31.5,3.0,35.3,3.5,37.5,2.8,39.8,2.1,42.5,2.4,45.4,2.6,47.6,2.0,49.5,2.5,51,3.0,53,2.5,56,1.3,59.9,0.4,63,-0.8,67.8,-2.1,71,-1.5,75,-0.7,78,-0.3,81,0.6,84,2.0,86.8,2.6,89.5,1.5,92,0.2,94.5,0,97,0.1],
 [-10,0,0,0,3.5,-0.2,7.3,-0.67,11,-0.2,15,0.8,18.5,1.8,21.5,2.1,24.5,1.6,28,0.5,32.5,-0.5,37.6,-0.94,43,-0.7,50,-0.1,57,0.5,63.3,0.67,70,0.5,80,0.2,88,0.05,97,0]],
[2,4,55.5,34,[1,0,-1,-2],30.6,86,
 [-10,0,-0.5,0,0.3,-0.5,1,-1.0,3,-0.95,6,-0.85,9.8,-0.73,13,-0.55,16.5,-0.39,18.5,-0.1,21,0.17,24,0.45,27.6,0.73,31,0.95,35,1.18,38.5,1.4,41.8,1.52,45,1.45,48.5,1.3,52,0.9,57.5,0.06,62,-0.5,66.4,-1.06,71,-1.6,75.3,-1.9,79,-1.6,82.5,-1.2,86.5,-0.72,91,-0.1,94,0.3,97,0.62],
 [-10,0,24.3,0,27,-0.05,29.6,-0.1,33,-0.03,37,0.15,40.7,0.25,44,0.1,48.5,-0.05,55,-0.05,65,0.03,75,0.05,97,0.05]],
[3,4,77.3,15.3,[4,2,0,-2],42,97.5,
 [-10,0,-2.6,0,0.8,-0.8,3.5,0.8,6.3,2.2,9.5,1.2,13.5,-0.6,17.5,-1.2,21,-0.7,24.3,0,28,1.5,31.5,3.5,34.8,4.55,38,3.5,42,0.5,46.5,-1.6,52.2,-2.3,56,-1.2,58.5,0.2,61.3,0.7,64,0,68,-2.0,72.4,-2.8,76,-1.8,80,0,84,1.3,88,1.8,93,2.4,97,2.9],
 [-10,0,0,0,3.5,0.6,6.7,1.05,10,0.7,14,-0.3,17,-0.9,19.8,-1.07,23,-0.8,28,-0.1,33,0.5,37.5,0.85,41,0.93,46,0.75,52,0.4,58,0.1,65,-0.1,73.5,-0.2,82,-0.1,97,0.05]],
[4,4,74.6,17.8,[4,2,0,-2],40.1,97.5,
 [-10,0,20.6,0,24,0.4,27.3,0.75,30,0,32.8,-1.8,35.4,-2.7,38,-1.6,41.5,1.5,45.5,3.9,48.5,2.5,51.5,0.3,55.6,-0.85,59,-0.4,63,0.2,67.4,0.55,71,0.1,76.4,-1.3,80,-0.8,84,0,88.8,0.55,93,0.3,97,0.1],
 [-10,0,20.6,0,24,0.3,27.2,0.55,30,0.1,33,-1.4,35.4,-2.05,38,-1.3,41.5,0.8,45.5,2.0,48.5,1.5,52,0.1,56,-0.9,60.6,-1.1,63.5,-0.6,66,0,68,0.15,72,0.05,80,0,97,0.05]],
[0,5,53.4,6.4,[5,0,-5,-10],30,87.3,
 [-10,0,1,0,5.7,-1.1,10,0,15.7,1.0,20,0,23,0,26,3.0,29.2,5.8,32,3.0,35,-4.0,38.8,-11,42,-7.0,45.5,1.0,49,6.0,52.2,7.9,55,7.5,58.3,5.6,61,2.0,63.9,-1.7,68.4,-3.2,72,0,76.2,3.4,80,0,85.2,-5.0,88.5,-2.0,92.6,2.8,95,2.0,97,1.0],
 [-10,0,21,0,25,1.0,29.2,3.4,32,1.5,35.5,-4.5,39.3,-8.6,42.5,-5.5,46,0.5,50,4.8,53.8,6.1,57,5.0,61,1.0,65,-1.8,70.6,-2.9,76,-2.0,83,-0.5,90,0.3,97,0.7]],
[1,5,73.9,10.3,[5,0,-5],39.4,98.8,
 [-10,0,20,0,24,-0.6,27.5,-1.1,31,0,35,3.0,39.8,5.75,43,4.0,46,0,48.8,-2.6,53,-3.1,57.7,-3.2,62,-3.0,64.5,-2.5,68,-0.8,71.2,0,75,-0.5,79,-0.9,84,0.5,89,2.8,94.6,4.8,97,4.5],
 [-10,0,20,0,24.5,-0.8,28.6,-2.6,32,-1.0,36,3.5,40.2,6.7,43.5,4.5,47.5,-1.0,51,-4.0,54.4,-5.0,58,-4.0,62,-1.5,65.5,0,70,1.6,76.8,2.6,82,2.1,88,1.0,93,0.4,97,0]],
[2,5,73.9,6.37,[10,5,0,-5],39.4,98.8,
 [-10,0,0,0,3,2.5,6,5.5,10.9,7.8,15,6.0,20,2.5,24.3,0,29,-4.0,33,-6.6,36,-7.3,40,-6.0,45,-2.5,50,1.5,55,3.8,58.5,4.5,62,3.0,66,-1.5,70.8,-4.2,75,-2.5,80,3.0,85,8.5,89.9,10.8,93,9.5,97.3,4.7],
 [-10,0,0,0,3,-1.0,6.3,-2.4,9.5,-0.5,13,3.5,16.9,6.0,20,4.5,23.5,1.0,26.5,-1.8,30,-3.8,33.5,-4.8,37,-4.0,42,-1.0,47,1.5,51.8,2.7,56,2.4,62,1.3,68,0.2,75,-0.4,85,-0.6,97,-0.5]],
[3,5,79.6,5.6,[10,5,0,-5],43.3,100.7,
 [-10,0,-0.8,0,1.5,2.0,5.2,3.75,9,3.6,13,3.7,17,2.5,22,0.5,26,-1.5,29.8,-2.4,33,-1.0,37,1.2,41.1,1.7,45,0,49,-3.0,53.4,-4.4,58,-4.5,63,-6.5,69,-8.2,73,-6.0,77,-1.0,82,7.0,85,11.5,88,13.3,91,12.3,94,9.0,97,5.8],
 [-10,0,22,0,26,-1.0,29.8,-2.1,33.5,-0.5,37,3.5,41,5.8,44.5,4.0,48.5,-1.0,52.5,-3.5,56.6,-3.9,60.5,-2.0,64.6,0.5,70,2.0,78,2.7,84,2.0,90,1.0,97,0.3]],
[4,5,73.9,7.85,[5,0,-5],39.4,96.9,
 [-10,0,10,0,13,-0.6,16.2,-1.0,19.5,0,23,2.0,27.3,3.4,30.5,1.5,34,-3.5,37.9,-6.3,41,-3.5,44.5,3.0,48.6,8.8,52,6.0,56,1.0,61,-1.5,65,-2.2,70,-2.2,75,-2.3,79,-1.8,83,-1.0,88,-0.2,93,0.6,97,0.9],
 [-10,0,19,0,23,0.2,27.3,0.4,30.5,-0.5,34,-2.3,37.4,-2.9,40.5,-1.5,44.5,2.5,48.1,5.1,51.5,3.8,56,0.5,60.5,-1.6,64.2,-2.2,68,-1.6,75,-0.5,83,0.3,90,0.8,97,1.1]],
[0,6,64.7,13.6,[4,2,0,-2,-4],35.3,90.8,
 [-10,0,-1,0.05,2,0.3,10,0.3,16,0.35,20,0.45,23,-0.3,26.9,-1.5,30,0,33,3.0,35.4,4.4,38,3.0,42,-2.0,45.5,-4.0,49,-2.5,52.7,0.2,58.3,0.55,64,-0.15,68,0.4,73.5,0.05,80,0.4,86,0.7,91,0.3,97,-0.2],
 [-10,0,20,0,22.5,-0.3,24.7,-0.84,27.5,-0.3,31,1.2,34.3,2.0,37.5,1.4,41,-0.3,44.5,-1.0,48.2,-1.1,53,-0.7,58,-0.2,64,0.1,70,0.35,77.3,0.45,85,0.3,91,0.1,97,-0.1]],
[1,6,63.9,41.1,[1,0,-1],33.3,90.7,
 [-10,0,-2,0,1.4,0.14,5,-0.2,10.4,-0.56,14.5,-0.1,18.4,0.42,22,0.55,26,0.9,29,1.3,32,1.44,35,1.3,38.5,0.7,43.2,0.33,47,0.7,50.5,1.02,53.5,0.7,57,-0.4,60,-1.1,63.3,-1.4,66,-1.0,69,-0.4,72.3,0,76,-0.4,80,-0.56,84,-0.4,87,-0.45,90,-0.3,93,-0.2,95,-0.35,97,-0.1],
 [-10,0,10,0.02,13,-0.1,16,-0.35,19,-0.52,22,-0.3,25.5,0.3,28.5,0.75,31,0.88,34,0.7,38,0.2,43,-0.2,48.8,-0.33,54,-0.15,60,0.05,68,0.25,77.8,0.33,87,0.3,97,0.2]],
[2,6,73.5,43,[1,0,-1],39,94.6,
 [-10,0,-1,0,0.5,0.31,5,0.2,9.8,0.1,15,0.05,20,0,25.6,-0.2,30,-0.35,33.5,-0.2,37,0.4,40.5,1.2,43.5,1.42,46,0.9,49,-0.1,51.8,-0.49,55,-0.45,58,-0.1,61,0.23,64,0.2,67,0,70,-0.05,73,0.1,77,0.25,81,0.2,86,0.1,92,0.05,97,0],
 [-10,0,25.6,0,28.5,-0.2,31.5,-0.45,33.3,-0.5,36,-0.1,39,0.8,41.5,1.4,43.5,1.6,46,1.2,49,0.2,52,-0.8,54.7,-1.11,58,-0.8,62,0,67,0.3,73,0.42,78.7,0.45,85,0.3,92,0.1,97,0]],
[3,6,56.3,13.1,[2,0,-2,-4],30.3,86.9,
 [-10,0,-1,0,0.8,-0.3,3.5,0.9,6.3,1.75,9,1.2,13,-0.8,17.5,-1.46,21,-0.8,24.5,0.8,27.6,1.8,31,0.9,35,-0.8,38.8,-1.6,42,-1.0,45,0.2,48.9,0.7,53,0.2,57.9,-0.3,60.5,1.5,63.5,3.95,66.5,3.2,70,0.5,74,-2.5,78,-4.3,82.6,-4.96,86,-4.0,90,-1.5,94,0.4,97,1.45],
 [-10,0,21.8,0,25,0.8,29.2,1.8,32.5,1.0,36.5,-1.8,40.4,-3.07,44,-2.0,48,0.2,52,1.6,55.5,1.97,59,1.8,63,0.8,67,-0.1,71,-0.5,73.5,-0.67,80,-0.55,88,-0.3,97,0.1]],
[4,6,52.7,11.8,[4,2,0,-2,-4],28.7,85.4,
 [-10,0,0,0,3,1.1,6,0.8,10,-0.5,16.3,-1.55,21,-0.6,24.5,0.8,28.5,1.7,32,1.0,35.5,-1.0,38.7,-2.0,42.5,-1.0,46.8,0.42,50,0.2,53.5,-0.56,57,0.5,61,2.8,64.7,3.95,68,3.3,72,0.5,76,-2.8,79.5,-4.8,82.5,-5.65,86,-4.5,90,-2.0,94,0,97,1.4],
 [-10,0,20.4,-0.05,24,0.5,27,1.3,29.5,1.55,32.5,0.6,36.5,-2.0,39.7,-3.1,43,-2.0,47,0.3,51,1.8,55.5,2.26,59.5,1.9,64,0.8,69,-0.2,75,-0.7,80.6,-0.85,87,-0.6,93,-0.3,97,0]]
];
var s='';
for(var q=0;q<D.length;q++){
  var p=D[q],c=p[0],r=p[1],y0=p[2],k=p[3],yt=p[4],b1=p[5],b2=p[6],G=p[7],R=p[8];
  var L=cols[c],T=rows[r],d='';
  s+='<rect class="bx" x="'+L+'" y="'+T+'" width="351" height="126.5"/>';
  [0,20,40,60,80].forEach(function(t){var x=(L+32.3+3.275*t).toFixed(1);d+='M'+x+' '+(T+126.5).toFixed(1)+'v-4.5M'+x+' '+T.toFixed(1)+'v4.5';});
  yt.forEach(function(v){var yy=y0-k*v;if(yy>=0&&yy<=126.5){var y=(T+yy).toFixed(1);d+='M'+L+' '+y+'h4.5M'+(L+351)+' '+y+'h-4.5';}});
  s+='<path class="tk" d="'+d+'"/>';
  s+='<path class="g" d="'+mk(G,L,T,y0,k)+'"/>';
  s+='<path class="r" d="'+mk(R,L,T,y0,k)+'"/>';
  var bx=L+32.3+3.275*65-4;
  s+='<rect x="'+bx.toFixed(1)+'" y="'+(T+b1).toFixed(1)+'" width="8" height="'+(b2-b1).toFixed(1)+'" fill="#0000ff"/>';
}
document.getElementById('data').innerHTML=s;
})();
</script>
</body></html>
